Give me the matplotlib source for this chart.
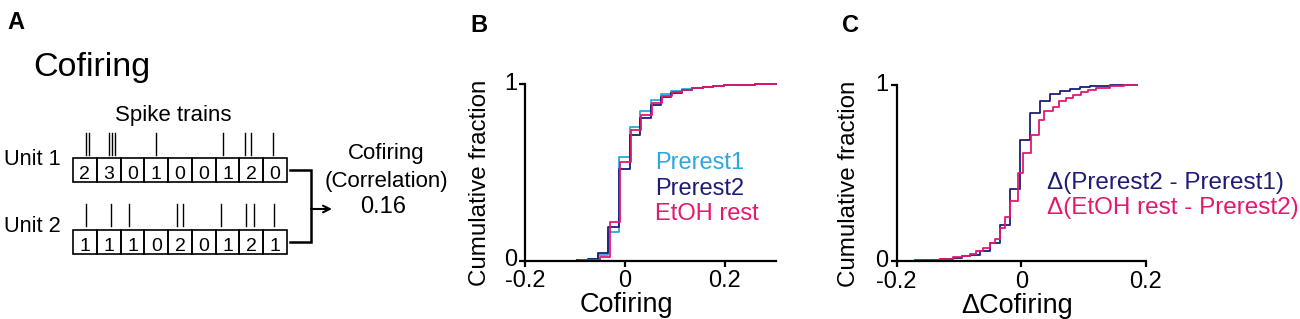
import matplotlib
matplotlib.use('Agg')
import matplotlib.pyplot as plt
from matplotlib.patches import Rectangle

plt.rcParams['font.family'] = ['Liberation Sans', 'DejaVu Sans']

# ---------------- data ----------------
# Panel A: spike trains (times in bin units) and bin counts
unit1_spikes = [0.55, 0.67, 1.53, 1.65, 1.78, 3.49, 6.31, 7.23, 7.47, 8.42]
unit2_spikes = [0.55, 1.60, 2.37, 4.36, 4.64, 6.21, 7.27, 7.61, 8.45]
unit1_counts = [2, 3, 0, 1, 0, 0, 1, 2, 0]
unit2_counts = [1, 1, 1, 0, 2, 0, 1, 2, 1]
cofiring_value = "0.16"

# Panel B: cumulative distributions of cofiring
b_x = [-0.097, -0.075, -0.054, -0.033, -0.012, 0.010, 0.031, 0.052, 0.073, 0.093,
       0.114, 0.135, 0.156, 0.177, 0.198, 0.219, 0.240, 0.261, 0.282, 0.304]
b_x_etoh = [-0.093, -0.071, -0.050, -0.029, -0.009, 0.012, 0.033, 0.054, 0.075, 0.095,
            0.114, 0.135, 0.156, 0.177, 0.198, 0.219, 0.240, 0.261, 0.282, 0.304]
prerest1 = [0.002, 0.006, 0.030, 0.160, 0.585, 0.760, 0.850, 0.910, 0.945, 0.962,
            0.972, 0.979, 0.985, 0.990, 0.993, 0.996, 0.998, 0.999, 1.0, 1.0]
prerest2 = [0.003, 0.010, 0.043, 0.190, 0.520, 0.710, 0.810, 0.884, 0.925, 0.952,
            0.966, 0.976, 0.984, 0.989, 0.993, 0.996, 0.998, 0.999, 1.0, 1.0]
etoh_rest = [0.002, 0.005, 0.022, 0.220, 0.560, 0.742, 0.827, 0.893, 0.931, 0.955,
             0.967, 0.977, 0.984, 0.989, 0.993, 0.996, 0.998, 0.999, 1.0, 1.0]

# Panel C: cumulative distributions of delta cofiring
c_x_pre = [-0.19, -0.17, -0.15, -0.13, -0.11, -0.095, -0.083, -0.067, -0.051, -0.035,
           -0.019, -0.002, 0.014, 0.030, 0.046, 0.062, 0.078, 0.094, 0.110, 0.126,
           0.142, 0.158, 0.174, 0.185]
d_pre = [0.0, 0.003, 0.007, 0.012, 0.019, 0.027, 0.035, 0.055, 0.100, 0.205,
         0.410, 0.685, 0.840, 0.905, 0.945, 0.965, 0.977, 0.985, 0.990, 0.994,
         0.997, 0.999, 1.0, 1.0]
c_x_etoh = [-0.19, -0.17, -0.15, -0.13, -0.11, -0.095, -0.083, -0.072, -0.062, -0.051,
            -0.043, -0.034, -0.027, -0.018, -0.005, 0.003, 0.016, 0.029, 0.037, 0.051,
            0.061, 0.072, 0.083, 0.096, 0.107, 0.120, 0.142, 0.165, 0.185]
d_etoh = [0.0, 0.004, 0.008, 0.014, 0.022, 0.030, 0.038, 0.057, 0.076, 0.100,
          0.125, 0.190, 0.247, 0.338, 0.500, 0.612, 0.716, 0.800, 0.848, 0.876,
          0.905, 0.927, 0.942, 0.957, 0.970, 0.984, 0.995, 0.999, 1.0]

xticks = [-0.2, 0, 0.2]
xtick_labels = ['-0.2', '0', '0.2']
yticks = [0, 1]
ytick_labels = ['0', '1']

C_LIGHT = '#2BA8E0'
C_NAVY = '#1E1C78'
C_PINK = '#E5186E'

# ---------------- figure ----------------
W, H = 1300, 319
fig = plt.figure(figsize=(13, 3.19), dpi=100)

ov = fig.add_axes([0, 0, 1, 1])
ov.set_xlim(0, W)
ov.set_ylim(H, 0)
ov.axis('off')


def box(l, r, b, t):
    return [l / W, 1 - b / H, (r - l) / W, (b - t) / H]


# ----- Panel A -----
ov.text(7, 29, 'A', fontsize=17, fontweight='bold', va='baseline')
ov.text(33, 76, 'Cofiring', fontsize=24.5, va='baseline')
ov.text(173.5, 120.7, 'Spike trains', fontsize=16, va='baseline', ha='center')
ov.text(4, 165, 'Unit 1', fontsize=15.7, va='baseline')
ov.text(4, 232, 'Unit 2', fontsize=15.7, va='baseline')

x0, x1 = 73, 287
cw = (x1 - x0) / len(unit1_counts)
for (top, bot, counts, spikes, st, sb, base) in [
        (158, 182, unit1_counts, unit1_spikes, 133, 155, 179),
        (230, 254, unit2_counts, unit2_spikes, 204, 226, 251)]:
    for i, c in enumerate(counts):
        ov.add_patch(Rectangle((x0 + i * cw, top), cw, bot - top, fill=False,
                               lw=1.2, ec='black'))
        ov.text(x0 + (i + 0.5) * cw, base, str(c), fontsize=14, ha='center',
                va='baseline')
    for s in spikes:
        xs = x0 + s * cw
        ov.plot([xs, xs], [st, sb], color='black', lw=1.0)

ov.plot([290, 311, 311, 290], [170, 170, 242, 242], color='black', lw=1.8,
        solid_joinstyle='miter')
ov.annotate('', xy=(332, 209), xytext=(311, 209),
            arrowprops=dict(arrowstyle='->', lw=1.5, color='black',
                            mutation_scale=12, shrinkA=0, shrinkB=0))
ov.text(386, 159.3, 'Cofiring', fontsize=16, ha='center', va='baseline')
ov.text(386, 186.7, '(Correlation)', fontsize=16, ha='center', va='baseline')
ov.text(383, 213.3, cofiring_value, fontsize=17, ha='center', va='baseline')


# ----- Panels B & C -----
def style(ax, xmax):
    ax.set_xlim(-0.2, xmax)
    ax.set_ylim(0, 1)
    for s in ['top', 'right']:
        ax.spines[s].set_visible(False)
    for s in ['left', 'bottom']:
        ax.spines[s].set_linewidth(1.6)
    ax.set_xticks(xticks)
    ax.set_xticklabels(xtick_labels)
    ax.set_yticks(yticks)
    ax.set_yticklabels(ytick_labels)
    ax.tick_params(direction='out', length=4.5, width=1.6, labelsize=17)
    ax.tick_params(axis='x', pad=2.5)
    ax.tick_params(axis='y', pad=1.5)
    for lab in ax.get_yticklabels():
        lab.set_verticalalignment('center')
    ax.patch.set_alpha(0)


axB = fig.add_axes(box(525.3, 776.3, 260.5, 84.2))
style(axB, 0.304)
axB.step(b_x, prerest1, where='post', color=C_LIGHT, lw=1.3, clip_on=False)
axB.step(b_x, prerest2, where='post', color=C_NAVY, lw=1.3, clip_on=False)
axB.step(b_x_etoh, etoh_rest, where='post', color=C_PINK, lw=1.3, clip_on=False)

axC = fig.add_axes(box(896.7, 1146, 261, 84.7))
style(axC, 0.2)
axC.step(c_x_pre, d_pre, where='post', color=C_NAVY, lw=1.3, clip_on=False)
axC.step(c_x_etoh, d_etoh, where='post', color=C_PINK, lw=1.3, clip_on=False)

# labels and legends (pixel coordinates on the overlay)
ov.text(470, 32, 'B', fontsize=17, fontweight='bold', va='baseline')
ov.text(842, 32, 'C', fontsize=17, fontweight='bold', va='baseline')
ov.text(480, 183, 'Cumulative fraction', fontsize=17.4, rotation=90,
        ha='center', va='center')
ov.text(849, 183.5, 'Cumulative fraction', fontsize=17.4, rotation=90,
        ha='center', va='center')
ov.text(626.7, 311.7, 'Cofiring', fontsize=19.5, ha='center', va='baseline')
ov.text(1017.5, 312.7, '\u0394Cofiring', fontsize=19.5, ha='center', va='baseline')

ov.text(655, 169.3, 'Prerest1', fontsize=17, color=C_LIGHT, va='baseline')
ov.text(655, 195, 'Prerest2', fontsize=17, color=C_NAVY, va='baseline')
ov.text(655, 220, 'EtOH rest', fontsize=17, color=C_PINK, va='baseline')
ov.text(1047, 189.3, '\u0394(Prerest2 - Prerest1)', fontsize=17.5, color=C_NAVY,
        va='baseline')
ov.text(1047, 214.3, '\u0394(EtOH rest - Prerest2)', fontsize=17.5, color=C_PINK,
        va='baseline')

fig.savefig('out.png', dpi=100)
